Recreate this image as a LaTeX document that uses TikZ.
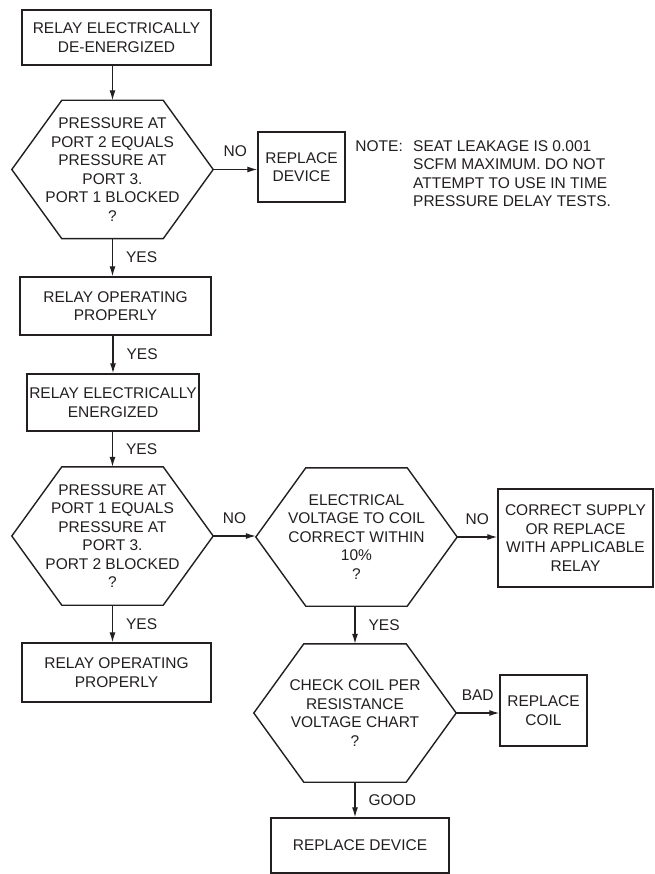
\documentclass[tikz,border=0pt]{standalone}
\usepackage{fontspec}
\setmainfont{Liberation Sans}
\usetikzlibrary{arrows.meta, positioning, calc}
\definecolor{inkGray}{RGB}{35, 31, 32}

\tikzset{
  stepbox/.style={draw=inkGray, line width=1.4pt, align=center, inner sep=0pt, text=inkGray},
  hexq/.style={align=center, inner sep=0pt, minimum width=201pt, minimum height=138pt, text=inkGray},
  flow/.style={draw=inkGray, line width=1.2pt, -{Latex[length=10pt,width=6pt]}},
  lbl/.style={inner sep=0pt, text=inkGray}
}

\begin{document}
\begin{tikzpicture}[x=1pt, y=-1pt, font=\fontsize{15.5}{18.5}\selectfont]
\useasboundingbox (0,0) rectangle (654,874);

\node[stepbox, minimum width=189pt, minimum height=55pt] (deenergized) at (116.5,37.5) {RELAY ELECTRICALLY\\DE-ENERGIZED};
\node[hexq] (portA) at (112.5,169.5) {PRESSURE AT\\PORT 2 EQUALS\\PRESSURE AT\\PORT 3.\\PORT 1 BLOCKED\\?};
\node[stepbox, minimum width=87pt, minimum height=70pt] (replaceA) at (301.5,167) {REPLACE\\DEVICE};
\node[lbl, align=left, anchor=north west] (note) at (413,140) {SEAT LEAKAGE IS 0.001\\SCFM MAXIMUM. DO NOT\\ATTEMPT TO USE IN TIME\\PRESSURE DELAY TESTS.};
\node[lbl, anchor=north east] (notehead) at ([xshift=-10pt]note.north west) {NOTE:};
\node[stepbox, minimum width=191pt, minimum height=58pt] (okA) at (115.5,306) {RELAY OPERATING\\PROPERLY};
\node[stepbox, minimum width=172pt, minimum height=57pt] (energized) at (113,402.5) {RELAY ELECTRICALLY\\ENERGIZED};
\node[hexq] (portB) at (112.5,536) {PRESSURE AT\\PORT 1 EQUALS\\PRESSURE AT\\PORT 3.\\PORT 2 BLOCKED\\?};
\node[hexq] (voltcheck) at (356.5,537) {ELECTRICAL\\VOLTAGE TO COIL\\CORRECT WITHIN\\10\%\\?};
\node[stepbox, minimum width=155pt, minimum height=98pt] (supply) at (575.5,538) {CORRECT SUPPLY\\OR REPLACE\\WITH APPLICABLE\\RELAY};
\node[stepbox, minimum width=189pt, minimum height=59pt] (okB) at (116.5,672.5) {RELAY OPERATING\\PROPERLY};
\node[hexq, minimum width=202pt] (coilcheck) at (355,713) {CHECK COIL PER\\RESISTANCE\\VOLTAGE CHART\\?};
\node[stepbox, minimum width=87pt, minimum height=71pt] (replacecoil) at (543.5,710.5) {REPLACE\\COIL};
\node[stepbox, minimum width=178pt, minimum height=55pt] (replaceB) at (360,845.5) {REPLACE DEVICE};

\foreach \q in {portA,portB,voltcheck,coilcheck}
  \draw[draw=inkGray, line width=1.4pt, line join=miter] (\q.west) -- ([xshift=50pt]\q.north west) -- ([xshift=-50pt]\q.north east) -- (\q.east) -- ([xshift=-50pt]\q.south east) -- ([xshift=50pt]\q.south west) -- cycle;

\draw[flow] (deenergized.south -| portA.north) -- (portA.north);
\draw[flow] (portA.south) -- node[lbl, right=13pt] {YES} (portA.south |- okA.north);
\draw[flow] (portA.east) -- node[lbl, above=12pt] {NO} (portA.east -| replaceA.west);
\draw[flow] (okA.south -| energized.north) -- node[lbl, right=13pt] {YES} (energized.north);
\draw[flow] (energized.south -| portB.north) -- node[lbl, right=13pt] {YES} (portB.north);
\draw[flow] (portB.south) -- node[lbl, right=13pt] {YES} (portB.south |- okB.north);
\draw[flow] (portB.east) -- node[lbl, above=12pt] {NO} (portB.east -| voltcheck.west);
\draw[flow] (voltcheck.east) -- node[lbl, above=12pt] {NO} (voltcheck.east -| supply.west);
\draw[flow] (voltcheck.south -| coilcheck.north) -- node[lbl, right=13pt] {YES} (coilcheck.north);
\draw[flow] (coilcheck.east) -- node[lbl, above=12pt] {BAD} (coilcheck.east -| replacecoil.west);
\draw[flow] (coilcheck.south) -- node[lbl, right=13pt] {GOOD} (coilcheck.south |- replaceB.north);
\end{tikzpicture}
\end{document}
